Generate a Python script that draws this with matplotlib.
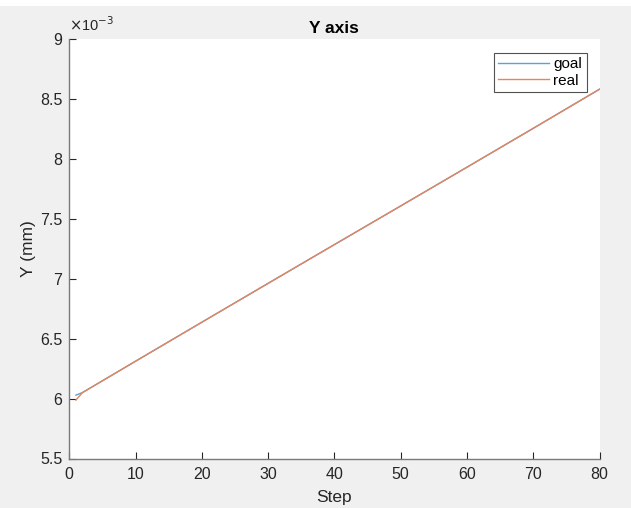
import matplotlib
matplotlib.use("Agg")
import matplotlib.pyplot as plt
from matplotlib.ticker import FuncFormatter, FixedLocator
from matplotlib.patches import Rectangle

plt.rcParams['font.family'] = ['Liberation Sans', 'DejaVu Sans']

# Trajectory samples (Y position in mm)
steps = [1, 2, 10, 20, 30, 40, 50, 60, 70, 80]
goal = [6.028e-3, 6.050e-3, 6.311e-3, 6.636e-3, 6.960e-3, 7.283e-3,
        7.605e-3, 7.928e-3, 8.252e-3, 8.578e-3]
real = [5.987e-3, 6.050e-3, 6.311e-3, 6.636e-3, 6.960e-3, 7.283e-3,
        7.605e-3, 7.928e-3, 8.252e-3, 8.578e-3]

x_ticks = [0, 10, 20, 30, 40, 50, 60, 70, 80]
y_ticks = [5.5e-3, 6e-3, 6.5e-3, 7e-3, 7.5e-3, 8e-3, 8.5e-3, 9e-3]

W, H = 631, 508
fig = plt.figure(figsize=(W / 100, H / 100), dpi=100)
fig.patch.set_facecolor('#f0f0f0')
fig.patches.append(Rectangle((0, 1 - 6 / H), 1, 6 / H, transform=fig.transFigure,
                             facecolor='white', edgecolor='none', zorder=0))

ax = fig.add_axes([69.3 / W, 1 - 458.5 / H, (599.5 - 69.3) / W, (458.5 - 38.6) / H])
ax.set_facecolor('white')

ax.plot(steps, goal, color='#5aa2d8', lw=1.0, label='goal')
ax.plot(steps, real, color='#e6845c', lw=1.0, label='real')

ax.set_xlim(0, 80)
ax.set_ylim(5.5e-3, 9e-3)
ax.xaxis.set_major_locator(FixedLocator(x_ticks))
ax.yaxis.set_major_locator(FixedLocator(y_ticks))
ax.yaxis.set_major_formatter(FuncFormatter(lambda v, p: f"{v * 1e3:g}"))

for s in ['top', 'right']:
    ax.spines[s].set_visible(False)
for s in ['left', 'bottom']:
    ax.spines[s].set_color('#7a7a7a')
    ax.spines[s].set_linewidth(1.0)

ax.tick_params(direction='in', length=5, width=0.8, color='#262626',
               labelcolor='#262626', labelsize=11.5)
ax.tick_params(axis='x', pad=6)
ax.tick_params(axis='y', pad=5)

ax.text(0.0, 1.012, r'$\times$10$^{-3}$', transform=ax.transAxes,
        ha='left', va='bottom', fontsize=10.5, color='#262626')

ax.set_title('Y axis', fontsize=12.5, fontweight='bold', color='black', pad=4)
ax.set_xlabel('Step', fontsize=12.5, color='#262626', labelpad=6)
ax.set_ylabel('Y (mm)', fontsize=12.5, color='#262626', labelpad=3)

leg = ax.legend(loc='upper right', bbox_to_anchor=(0.9755, 0.9663),
                borderaxespad=0, fontsize=11, frameon=True, fancybox=False,
                handlelength=3.3, handletextpad=0.3, labelspacing=0.15,
                borderpad=0.3)
leg.get_frame().set_edgecolor('#262626')
leg.get_frame().set_linewidth(0.8)

fig.savefig('out.png', dpi=100, facecolor=fig.get_facecolor())
